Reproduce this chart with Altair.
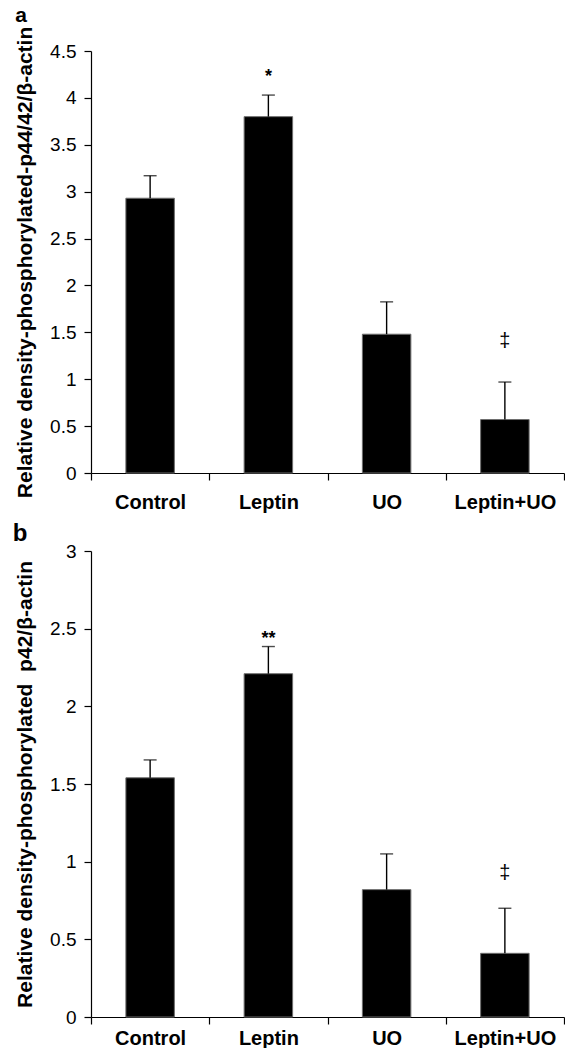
import altair as alt
import pandas as pd

groups = ["Control", "Leptin", "UO", "Leptin+UO"]

# Panel a: phosphorylated p44/42 relative to beta-actin
p4442_mean = [2.93, 3.80, 1.48, 0.57]
p4442_err = [0.24, 0.23, 0.345, 0.40]
p4442_star = ["", "*", "", ""]
p4442_dagger = ["", "", "", "\u2021"]

# Panel b: phosphorylated p42 relative to beta-actin
p42_mean = [1.54, 2.21, 0.82, 0.41]
p42_err = [0.115, 0.175, 0.23, 0.29]
p42_star = ["", "**", "", ""]
p42_dagger = ["", "", "", "\u2021"]

FONT = "Liberation Sans"


def panel(means, errs, stars, daggers, ymax, height, title, letter, letter_size,
          letter_pos, star_dy, dagger_dy, x_label_pad):
    df = pd.DataFrame({
        "group": groups,
        "mean": means,
        "upper": [m + e for m, e in zip(means, errs)],
        "star": stars,
        "dagger": daggers,
    })
    ticks = [i * 0.5 for i in range(int(ymax / 0.5) + 1)]
    x = alt.X(
        "group:N",
        sort=groups,
        scale=alt.Scale(paddingInner=0, paddingOuter=0),
        axis=alt.Axis(
            title=None, labelAngle=0, tickBand="extent", tickSize=7,
            labelFontWeight="bold", labelFontSize=20, labelPadding=x_label_pad,
        ),
    )
    y_axis = alt.Axis(
        title=title, values=ticks, format="~g", tickSize=7,
        labelFontSize=19, labelPadding=8,
        titleFontSize=21, titleFontWeight="bold", titlePadding=14,
    )
    y = alt.Y("mean:Q", scale=alt.Scale(domain=[0, ymax], nice=False), axis=y_axis)

    base = alt.Chart(df)
    bars = base.mark_bar(color="black", stroke="#6e6e6e", strokeWidth=1,
                         width=alt.RelativeBandSize(0.41)).encode(x=x, y=y)
    stem = base.mark_rule(color="black", strokeWidth=1.4).encode(
        x=x, y=alt.Y("mean:Q"), y2="upper:Q")
    cap = base.mark_tick(color="black", size=13, thickness=1.4).encode(
        x=x, y=alt.Y("upper:Q"))
    star = base.mark_text(baseline="bottom", dy=star_dy, fontSize=18, font=FONT,
                          fontWeight="bold", color="black").encode(
        x=x, y=alt.Y("upper:Q"), text="star:N")
    dagger = base.mark_text(baseline="bottom", dy=dagger_dy, fontSize=20, font=FONT,
                            color="black").encode(x=x, y=alt.Y("upper:Q"), text="dagger:N")
    tag = alt.Chart(pd.DataFrame({"t": [letter]})).mark_text(
        font=FONT, fontSize=letter_size, fontWeight="bold", align="center",
        baseline="middle", color="black",
    ).encode(x=alt.value(letter_pos[0]), y=alt.value(letter_pos[1]), text="t:N")
    return alt.layer(bars, stem, cap, star, dagger, tag).properties(width=473, height=height)


panel_a = panel(p4442_mean, p4442_err, p4442_star, p4442_dagger, 4.5, 422,
                "Relative density-phosphorylated-p44/42/\u03b2-actin", "a", 21,
                (-70, -35), -9, -31, 12)
panel_b = panel(p42_mean, p42_err, p42_star, p42_dagger, 3, 466,
                "Relative density-phosphorylated\u00a0 p42/\u03b2-actin", "b", 24,
                (-71, -17), 1.5, -25, 4)

chart = alt.vconcat(panel_a, panel_b, spacing=10).configure_view(
    stroke=None
).configure_axis(
    labelFont=FONT, titleFont=FONT, labelColor="black", titleColor="black",
    domainColor="black", tickColor="black", domainWidth=1.2, tickWidth=1.2,
    grid=False,
).properties(padding={"left": 12, "top": 5, "right": 0, "bottom": 0})

chart.save("out.html", embed_options={"renderer": "svg", "actions": False})
